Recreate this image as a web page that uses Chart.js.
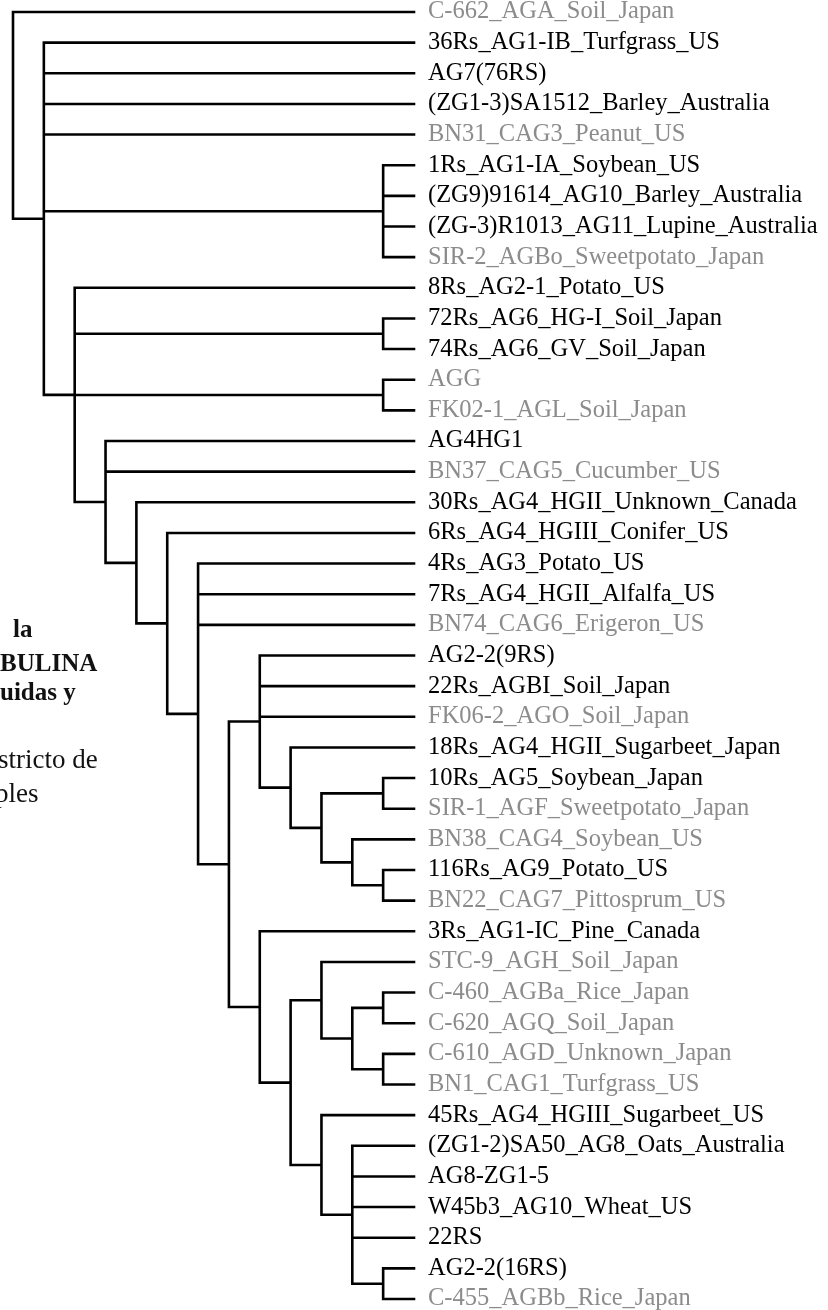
<!DOCTYPE html>
<html>
<head>
<meta charset="utf-8">
<script src="https://cdn.jsdelivr.net/npm/chart.js@4"></script>
<style>
  html, body { margin: 0; padding: 0; background: #fff; }
  #wrap { width: 828px; height: 1310px; }
</style>
</head>
<body>
<div id="wrap"><canvas id="tree"></canvas></div>
<script>
// leaf names, top to bottom
const leafLabels = [
  'C-662_AGA_Soil_Japan',
  '36Rs_AG1-IB_Turfgrass_US',
  'AG7(76RS)',
  '(ZG1-3)SA1512_Barley_Australia',
  'BN31_CAG3_Peanut_US',
  '1Rs_AG1-IA_Soybean_US',
  '(ZG9)91614_AG10_Barley_Australia',
  '(ZG-3)R1013_AG11_Lupine_Australia',
  'SIR-2_AGBo_Sweetpotato_Japan',
  '8Rs_AG2-1_Potato_US',
  '72Rs_AG6_HG-I_Soil_Japan',
  '74Rs_AG6_GV_Soil_Japan',
  'AGG',
  'FK02-1_AGL_Soil_Japan',
  'AG4HG1',
  'BN37_CAG5_Cucumber_US',
  '30Rs_AG4_HGII_Unknown_Canada',
  '6Rs_AG4_HGIII_Conifer_US',
  '4Rs_AG3_Potato_US',
  '7Rs_AG4_HGII_Alfalfa_US',
  'BN74_CAG6_Erigeron_US',
  'AG2-2(9RS)',
  '22Rs_AGBI_Soil_Japan',
  'FK06-2_AGO_Soil_Japan',
  '18Rs_AG4_HGII_Sugarbeet_Japan',
  '10Rs_AG5_Soybean_Japan',
  'SIR-1_AGF_Sweetpotato_Japan',
  'BN38_CAG4_Soybean_US',
  '116Rs_AG9_Potato_US',
  'BN22_CAG7_Pittosprum_US',
  '3Rs_AG1-IC_Pine_Canada',
  'STC-9_AGH_Soil_Japan',
  'C-460_AGBa_Rice_Japan',
  'C-620_AGQ_Soil_Japan',
  'C-610_AGD_Unknown_Japan',
  'BN1_CAG1_Turfgrass_US',
  '45Rs_AG4_HGIII_Sugarbeet_US',
  '(ZG1-2)SA50_AG8_Oats_Australia',
  'AG8-ZG1-5',
  'W45b3_AG10_Wheat_US',
  '22RS',
  'AG2-2(16RS)',
  'C-455_AGBb_Rice_Japan'
];

// leaves printed in grey
const grayLeaves = [0, 4, 8, 12, 13, 15, 20, 23, 26, 27, 29, 31, 32, 33, 34, 35, 42];

// tree: [rank, ...children], a number is a leaf index
const tree = [0, 0,
  [1, 1, 2, 3, 4,
    [12, 5, 6, 7, 8],
    [2, 9, [12, 10, 11], [12, 12, 13],
      [3, 14, 15,
        [4, 16,
          [5, 17,
            [6, 18, 19, 20,
              [7,
                [8, 21, 22, 23,
                  [9, 24,
                    [10, [12, 25, 26],
                      [11, 27, [12, 28, 29]]]]],
                [8, 30,
                  [9,
                    [10, 31, [11, [12, 32, 33], [12, 34, 35]]],
                    [10, 36, [11, 37, 38, 39, 40, [12, 41, 42]]]]]]]]]]]]];

const leafRank = 13;

// caption fragments at the left edge of the page
const captionLines = [
  { text: 'la', bold: true },
  { text: 'BULINA', bold: true },
  { text: 'uidas y', bold: true },
  { text: 'stricto de', bold: false },
  { text: 'ples', bold: false }
];

// walk the tree, collect the elbow segments
const treeData = [];
function place(node) {
  if (typeof node === 'number') return { x: leafRank, y: node };
  const [rank, ...kids] = node;
  const pts = kids.map(place);
  const first = pts[0], last = pts[pts.length - 1];
  treeData.push({ x: first.x, y: first.y }, { x: rank, y: first.y },
    { x: rank, y: last.y }, { x: last.x, y: last.y }, { x: null, y: null });
  pts.slice(1, -1).forEach(p => {
    treeData.push({ x: rank, y: p.y }, { x: p.x, y: p.y }, { x: null, y: null });
  });
  return { x: rank, y: (first.y + last.y) / 2 };
}
place(tree);

const captionPlugin = {
  id: 'caption',
  afterDraw(chart) {
    const ctx = chart.ctx;
    const pos = [[13, 637], [0, 671], [0, 700], [-2, 768], [-5, 802]];
    ctx.save();
    ctx.fillStyle = '#111';
    ctx.textBaseline = 'alphabetic';
    captionLines.forEach((l, i) => {
      ctx.font = (l.bold ? 'bold 25px' : '27px') + ' "Liberation Serif"';
      ctx.fillText(l.text, pos[i][0], pos[i][1]);
    });
    ctx.restore();
  }
};

new Chart(document.getElementById('tree'), {
  type: 'line',
  data: {
    datasets: [{
      data: treeData,
      borderColor: '#000',
      borderWidth: 2.6,
      pointRadius: 0,
      tension: 0,
      spanGaps: false,
      clip: false,
      borderJoinStyle: 'miter',
      borderCapStyle: 'square'
    }]
  },
  options: {
    responsive: true,
    maintainAspectRatio: false,
    animation: false,
    layout: { padding: { left: 13, top: 12, bottom: 11, right: 0 } },
    plugins: { legend: { display: false }, tooltip: { enabled: false } },
    scales: {
      x: { type: 'linear', min: 0, max: leafRank, display: false },
      y: {
        type: 'linear',
        position: 'right',
        min: 0,
        max: leafLabels.length - 1,
        reverse: true,
        grid: { display: false, drawTicks: false },
        border: { display: false },
        afterFit(scale) { scale.width = 414; scale.paddingTop = 0; scale.paddingBottom = 0; },
        ticks: {
          stepSize: 1,
          autoSkip: false,
          padding: 14,
          font: { family: '"Liberation Serif"', size: 24.5 },
          color: ctx => grayLeaves.includes(ctx.tick.value) ? '#8c8c8c' : '#000',
          callback: v => leafLabels[v]
        }
      }
    }
  },
  plugins: [captionPlugin]
});
</script>
</body>
</html>
